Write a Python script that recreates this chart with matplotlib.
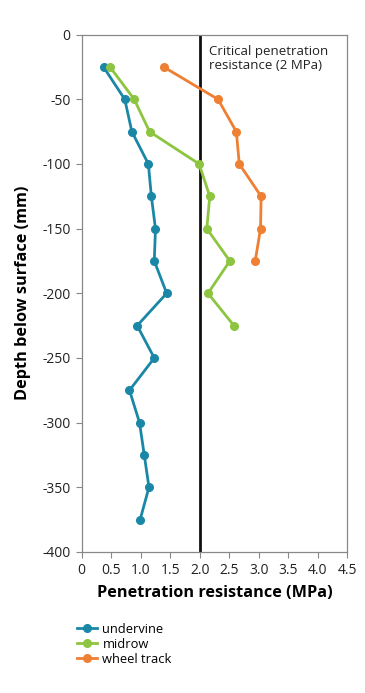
import matplotlib.pyplot as plt

plt.rcParams['font.family'] = ['Open Sans', 'DejaVu Sans']

# ------------------------------------------------------------
# DATA
# ------------------------------------------------------------
depth_undervine = [-25, -50, -75, -100, -125, -150, -175, -200, -225,
                   -250, -275, -300, -325, -350, -375]
pr_undervine = [0.37, 0.73, 0.85, 1.13, 1.18, 1.25, 1.23, 1.44, 0.94,
                1.23, 0.81, 0.98, 1.06, 1.14, 0.99]

depth_midrow = [-25, -50, -75, -100, -125, -150, -175, -200, -225]
pr_midrow = [0.48, 0.89, 1.15, 1.99, 2.17, 2.12, 2.51, 2.14, 2.58]

depth_wheel = [-25, -50, -75, -100, -125, -150, -175]
pr_wheel = [1.39, 2.31, 2.62, 2.67, 3.04, 3.03, 2.94]

critical_pr = 2.0
x_ticks = [0, 0.5, 1.0, 1.5, 2.0, 2.5, 3.0, 3.5, 4.0, 4.5]
x_tick_labels = ['0', '0.5', '1.0', '1.5', '2.0', '2.5', '3.0', '3.5', '4.0', '4.5']
y_ticks = [0, -50, -100, -150, -200, -250, -300, -350, -400]

c_under = '#1b87a6'
c_mid = '#8dc540'
c_wheel = '#ee7f33'

# ------------------------------------------------------------
# PLOT
# ------------------------------------------------------------
fig = plt.figure(figsize=(3.65, 6.93), dpi=100)
ax = fig.add_axes([0.2238, 0.2035, 0.7277, 0.7465])

ax.plot(pr_undervine, depth_undervine, color=c_under, lw=2,
        marker='o', ms=5.5, label='undervine')
ax.plot(pr_midrow, depth_midrow, color=c_mid, lw=2,
        marker='o', ms=5.5, label='midrow')
ax.plot(pr_wheel, depth_wheel, color=c_wheel, lw=2,
        marker='o', ms=5.5, label='wheel track')

ax.axvline(critical_pr, color='#111111', lw=2, zorder=1)
ax.text(2.16, -8, 'Critical penetration\nresistance (2 MPa)',
        ha='left', va='top', fontsize=9.5, color='#222222',
        linespacing=1.1)

ax.set_xlim(0, 4.5)
ax.set_ylim(-400, 0)
ax.set_xticks(x_ticks)
ax.set_xticklabels(x_tick_labels)
ax.set_yticks(y_ticks)
ax.set_yticklabels([str(v) for v in y_ticks])
ax.tick_params(labelsize=10, labelcolor='#222222', length=4, width=0.8,
               pad=4, color='#888888')
for s in ax.spines.values():
    s.set_color('#888888')
    s.set_linewidth(0.9)

ax.set_xlabel('Penetration resistance (MPa)', fontsize=11.7,
              fontweight='bold')
ax.set_ylabel('Depth below surface (mm)', fontsize=11.7,
              fontweight='bold')
ax.xaxis.set_label_coords(0.5, -0.064)
ax.yaxis.set_label_coords(-0.189, 0.5)

fig.legend(loc='upper left', frameon=False, fontsize=9.3,
           handlelength=1.6, handletextpad=0.4, labelspacing=0.15,
           borderaxespad=0, borderpad=0,
           bbox_to_anchor=(0.21, 1 - 623 / 693),
           bbox_transform=fig.transFigure)

fig.savefig('out.png', dpi=100)
